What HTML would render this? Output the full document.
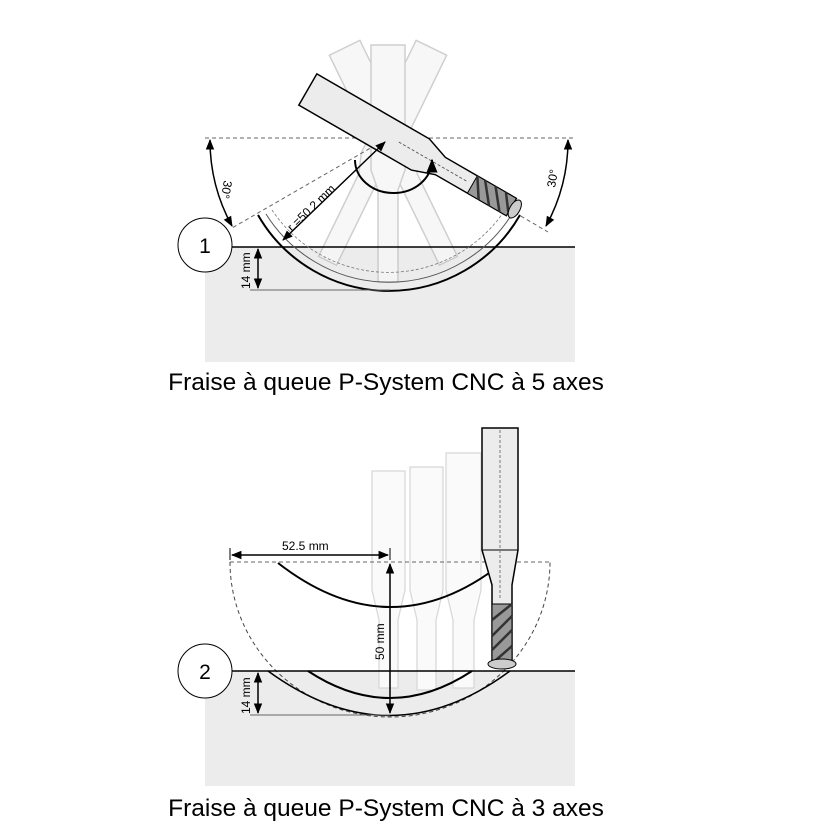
<!DOCTYPE html>
<html><head><meta charset="utf-8"><style>html,body{margin:0;padding:0;background:#fff}svg{display:block}text{font-family:"Liberation Sans",sans-serif}</style></head><body>
<svg width="834" height="834" viewBox="0 0 834 834" xmlns="http://www.w3.org/2000/svg">
<defs>
<marker id="a" viewBox="0 0 10 10" refX="9" refY="5" markerWidth="7" markerHeight="7" orient="auto-start-reverse"><path d="M0,1 L10,5 L0,9 z" fill="#000"/></marker>
<g id="ghost"><path d="M-17,-245 L17,-245 L17,-120 L10,-100 L10,-8 L-10,-8 L-10,-100 L-17,-120 Z" fill="#f6f6f6" stroke="#c4c4c4" stroke-width="1.5"/></g>
</defs>
<!-- TOP -->
<rect x="205" y="247" width="370" height="115" fill="#ececec"/>
<g opacity="0.8">
<use href="#ghost" transform="translate(452,268) rotate(-26)"/>
<use href="#ghost" transform="translate(324,268) rotate(26)"/>
<use href="#ghost" transform="translate(388,290)"/>
</g>
<line x1="205" y1="138" x2="575" y2="138" stroke="#666" stroke-dasharray="4,3"/>
<line x1="388" y1="138" x2="232" y2="228" stroke="#666" stroke-dasharray="4,3"/>
<line x1="388" y1="138" x2="548" y2="232" stroke="#666" stroke-dasharray="4,3"/>
<line x1="232" y1="247" x2="575" y2="247" stroke="#000" stroke-width="1.5"/>
<path d="M258,215 A151,151 0 0 0 520,215" fill="none" stroke="#000" stroke-width="2"/>
<path d="M266,214 A145,145 0 0 0 512,214" fill="none" stroke="#555" stroke-width="1"/>
<path d="M272,210 A140,140 0 0 0 505,210" fill="none" stroke="#777" stroke-width="0.8" stroke-dasharray="3,2"/>
<!-- main tool -->
<g transform="translate(520,212) rotate(-60)">
<path d="M-18,-245 L18,-245 L18,-115 L10,-92 L10,-10 L-10,-10 L-10,-92 L-18,-115 Z" fill="#ececec" stroke="#000" stroke-width="1.5"/>
<rect x="-10" y="-55" width="20" height="45" fill="#999" stroke="#000"/>
<path d="M-10,-42 L10,-55 M-10,-30 L10,-46 M-10,-18 L10,-34 M-6,-10 L10,-22" stroke="#333" stroke-width="2.5"/>
<ellipse cx="0" cy="-6" rx="10" ry="5" fill="#ccc" stroke="#000"/>
<line x1="0" y1="-140" x2="0" y2="-60" stroke="#555" stroke-dasharray="3,2"/>
</g>
<path d="M355,160 A35,30 0 0 0 432,160" fill="none" stroke="#000" stroke-width="2" marker-end="url(#a)"/>
<line x1="385" y1="142" x2="283" y2="240" stroke="#000" stroke-width="1.5" marker-start="url(#a)" marker-end="url(#a)"/>
<text transform="translate(292,232) rotate(-44)" font-size="12">r =50.2 mm</text>
<path d="M210,140 A178,178 0 0 0 232,226" fill="none" stroke="#000" stroke-width="1.5" marker-start="url(#a)" marker-end="url(#a)"/>
<text transform="translate(224,180) rotate(100)" font-size="12">30°</text>
<path d="M568,140 A178,178 0 0 1 546,226" fill="none" stroke="#000" stroke-width="1.5" marker-start="url(#a)" marker-end="url(#a)"/>
<text transform="translate(555,188) rotate(-80)" font-size="12">30°</text>
<line x1="258" y1="249" x2="258" y2="288" stroke="#000" stroke-width="1.5" marker-start="url(#a)" marker-end="url(#a)"/>
<line x1="250" y1="290" x2="390" y2="290" stroke="#666"/>
<text transform="translate(250,289) rotate(-90)" font-size="12">14 mm</text>
<circle cx="205" cy="245" r="27" fill="#fff" stroke="#000"/>
<text x="205" y="253" font-size="21" text-anchor="middle">1</text>
<text x="386" y="390" font-size="24.5" text-anchor="middle">Fraise à queue P-System CNC à 5 axes</text>
<!-- BOTTOM -->
<rect x="205" y="671" width="370" height="115" fill="#ececec"/>
<g fill="#fafafa" stroke="#d6d6d6" stroke-width="1.2">
<path d="M372,471 L405,471 L405,590 L398,620 L398,688 L379,688 L379,620 L372,590 Z"/>
<path d="M410,467 L443,467 L443,590 L436,620 L436,690 L417,690 L417,620 L410,590 Z"/>
<path d="M446,453 L481,453 L481,590 L474,620 L474,688 L453,688 L453,620 L446,590 Z"/>
</g>
<line x1="230" y1="562" x2="550" y2="562" stroke="#666" stroke-dasharray="4,3"/>
<path d="M230,562 A160,155 0 0 0 550,562" fill="none" stroke="#444" stroke-dasharray="4,3"/>
<line x1="232" y1="671" x2="575" y2="671" stroke="#000" stroke-width="1.5"/>
<path d="M268,671 Q390,760 510,671" fill="none" stroke="#000" stroke-width="1.5"/>
<path d="M308,671 Q390,725 472,671" fill="none" stroke="#000" stroke-width="2"/>
<line x1="250" y1="715" x2="390" y2="715" stroke="#666"/>
<path d="M278,563 Q390,650 500,565" fill="none" stroke="#000" stroke-width="2" marker-end="url(#a)"/>
<line x1="390" y1="564" x2="390" y2="713" stroke="#000" stroke-width="1.5" marker-start="url(#a)" marker-end="url(#a)"/>
<text transform="translate(384,660) rotate(-90)" font-size="12">50 mm</text>
<line x1="230" y1="548" x2="230" y2="560" stroke="#000"/>
<line x1="390" y1="548" x2="390" y2="560" stroke="#000"/>
<line x1="232" y1="555" x2="388" y2="555" stroke="#000" stroke-width="1.5" marker-start="url(#a)" marker-end="url(#a)"/>
<text x="282" y="550" font-size="12">52.5 mm</text>
<path d="M482,428 L518,428 L518,550 L512,585 L512,660 L492,660 L492,585 L482,550 Z" fill="#ececec" stroke="#000" stroke-width="1.5"/>
<line x1="482" y1="550" x2="518" y2="550" stroke="#000"/>
<line x1="500" y1="430" x2="500" y2="600" stroke="#777" stroke-dasharray="3,2"/>
<rect x="492" y="604" width="20" height="56" fill="#999" stroke="#000"/>
<path d="M492,620 L512,604 M492,636 L512,616 M492,650 L512,630 M496,660 L512,646" stroke="#333" stroke-width="2.5"/>
<ellipse cx="502" cy="664" rx="14" ry="5" fill="#ccc" stroke="#000"/>
<line x1="258" y1="673" x2="258" y2="713" stroke="#000" stroke-width="1.5" marker-start="url(#a)" marker-end="url(#a)"/>
<text transform="translate(250,714) rotate(-90)" font-size="12">14 mm</text>
<circle cx="205" cy="671" r="27" fill="#fff" stroke="#000"/>
<text x="205" y="679" font-size="21" text-anchor="middle">2</text>
<text x="386" y="816" font-size="24.5" text-anchor="middle">Fraise à queue P-System CNC à 3 axes</text>
</svg>
</body></html>
